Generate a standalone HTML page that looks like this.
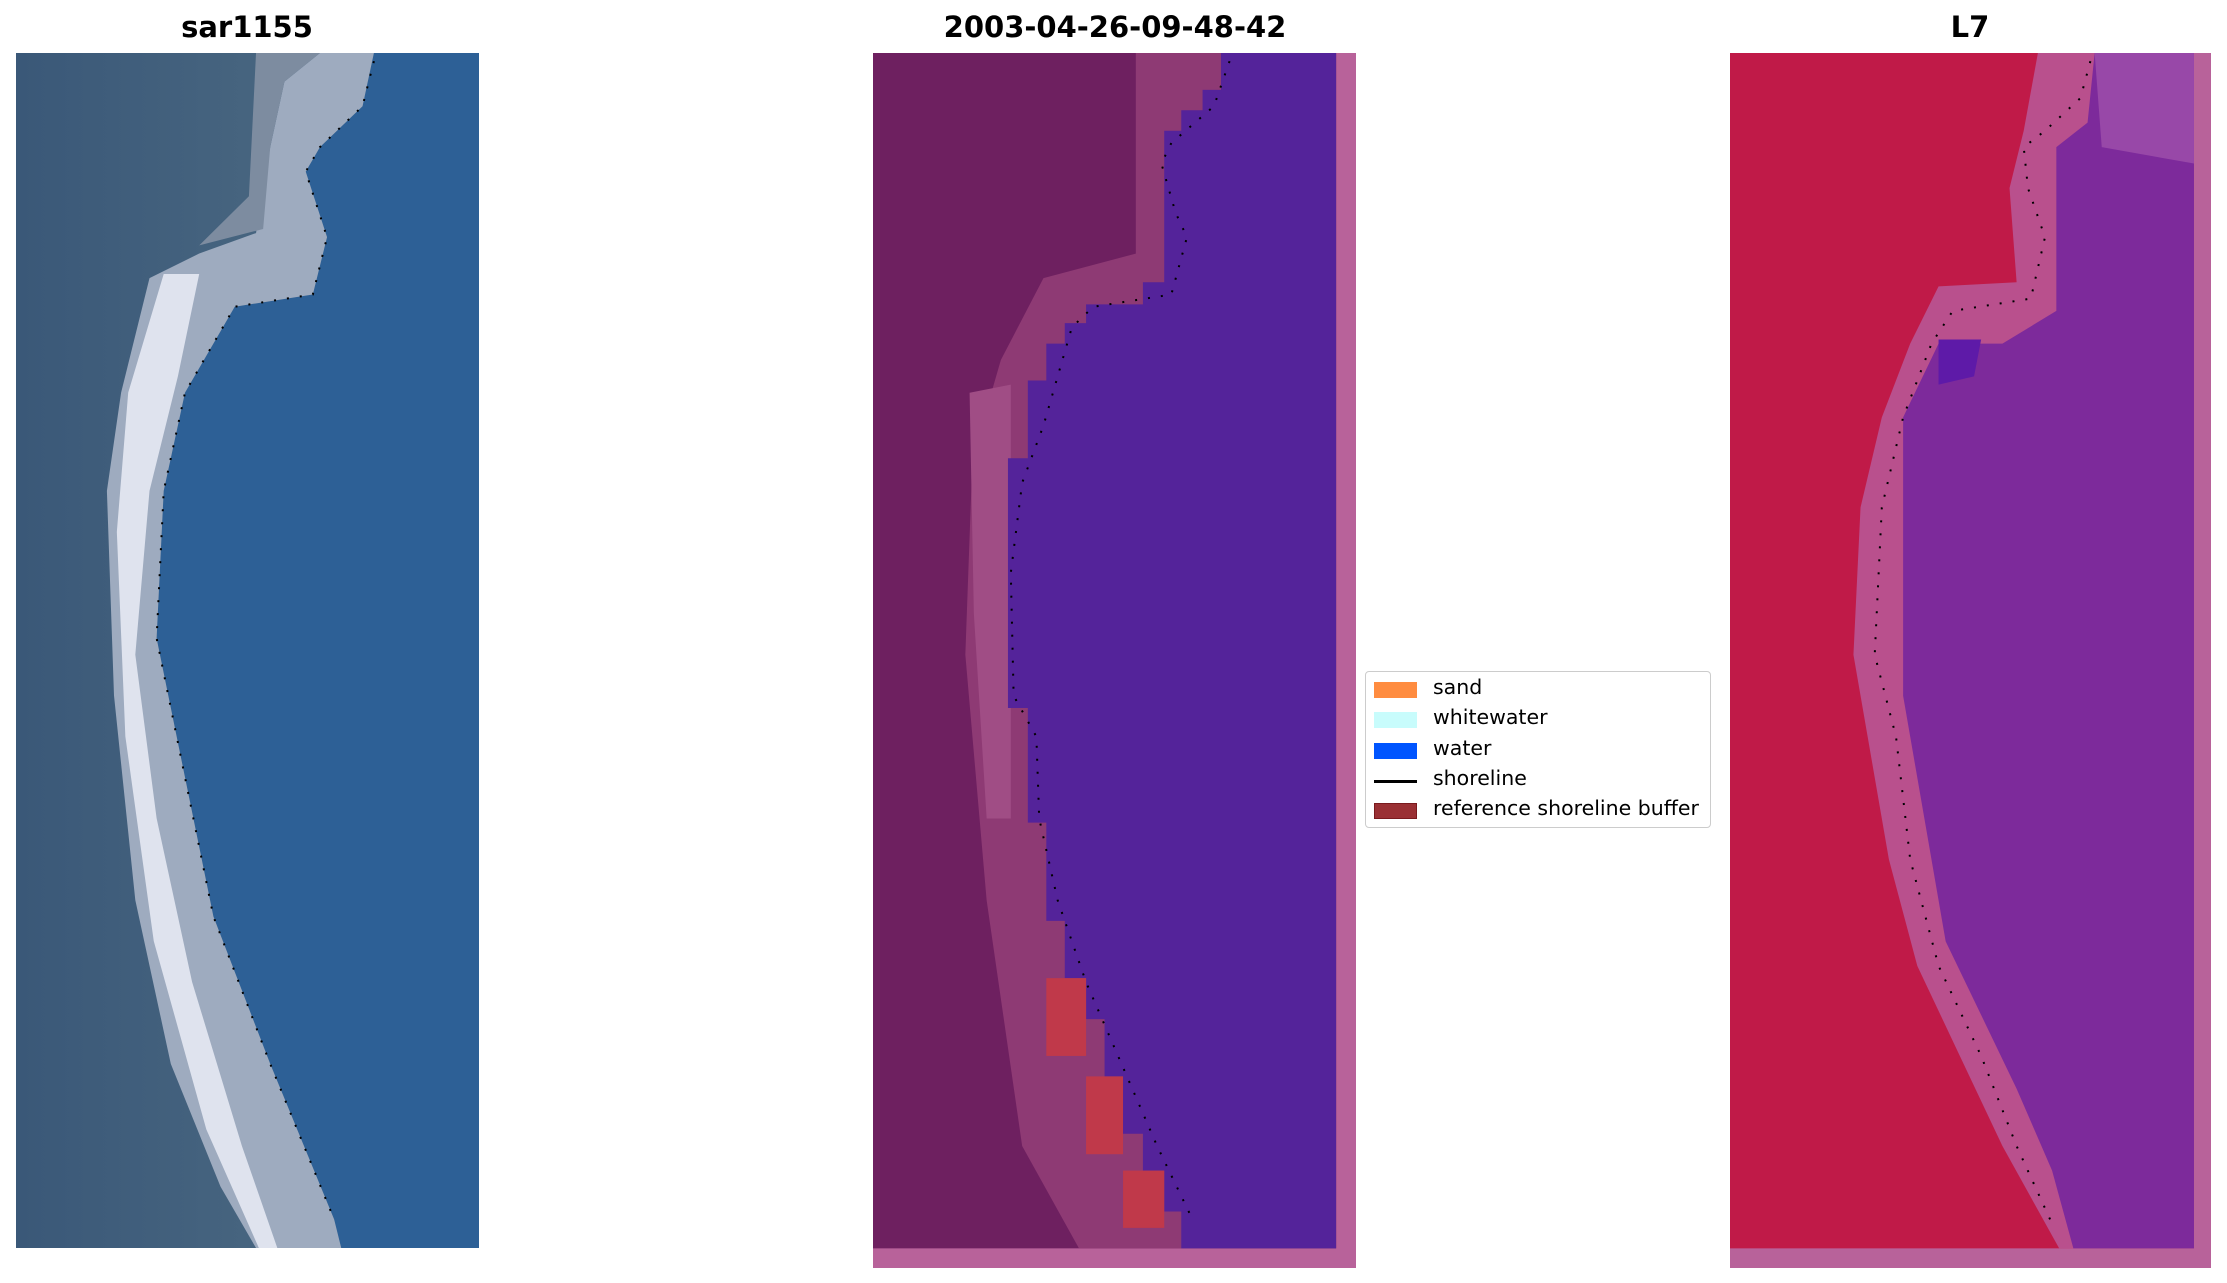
<!DOCTYPE html>
<html><head><meta charset="utf-8"><style>
html,body{margin:0;padding:0;background:#fff;}
body{width:2227px;height:1283px;position:relative;overflow:hidden;font-family:"Liberation Sans","DejaVu Sans",sans-serif;}
.t{position:absolute;top:10px;font-weight:bold;font-size:29px;transform:translateX(-50%);white-space:nowrap;font-family:"DejaVu Sans","Liberation Sans",sans-serif;}
svg{position:absolute;}
.leg{position:absolute;left:1365px;top:671px;width:346px;height:157px;border:1.5px solid #ccc;border-radius:4px;background:#fff;box-sizing:border-box;font-family:"DejaVu Sans","Liberation Sans",sans-serif;font-size:20.5px;}
.r{position:absolute;left:0;height:30px;width:100%;}
.p{position:absolute;left:8px;top:8px;width:43px;height:16px;}
.l{position:absolute;left:67px;top:1px;}
</style></head><body>
<div class="t" style="left:247px">sar1155</div>
<div class="t" style="left:1115px">2003-04-26-09-48-42</div>
<div class="t" style="left:1970px">L7</div>

<svg style="left:15.6px;top:53px" width="463" height="1195" viewBox="11 65 326 1460" preserveAspectRatio="none">
<defs><linearGradient id="g1" x1="0" x2="1" y1="0" y2="0"><stop offset="0" stop-color="#3a5878"/><stop offset="0.5" stop-color="#46647f"/><stop offset="1" stop-color="#3f5f80"/></linearGradient></defs>
<rect x="11" y="65" width="326" height="1460" fill="url(#g1)"/>
<polygon points="263,65 337,65 337,1525 240,1525 235,1490 190,1300 150,1120 130,950 110,780 115,600 130,480 165,375 220,360 230,290 215,210 225,180 255,130" fill="#2d6096"/>
<polygon points="225,65 263,65 255,130 225,180 215,210 230,290 220,360 165,375 130,480 115,600 110,780 130,950 150,1120 190,1300 235,1490 240,1525 180,1525 155,1450 120,1300 95,1100 80,850 75,600 85,480 105,340 140,310 180,285 190,180 200,100" fill="#9eabbf"/>
<polygon points="115,335 140,335 125,460 105,600 95,800 110,1000 135,1200 170,1400 195,1525 182,1525 145,1380 108,1150 88,900 82,650 90,480" fill="#dfe3ee"/>
<polygon points="180,65 225,65 200,100 190,180 185,280 140,300 175,240" fill="#7d8ca0"/>
<polyline points="263,75 255,130 225,180 215,210 230,290 220,360 165,375 130,480 115,600 110,780 130,950 150,1120 190,1300 235,1490" fill="none" stroke="#000" stroke-width="2" stroke-dasharray="2 11" vector-effect="non-scaling-stroke"/>
</svg>

<svg style="left:873px;top:53px" width="483" height="1215" viewBox="615 65 340 1484" preserveAspectRatio="none">
<rect x="615" y="65" width="340" height="1484" fill="#b8629a"/>
<rect x="615" y="65" width="326" height="1460" fill="#6e2060"/>
<polygon points="800,65 860,65 860,1525 760,1525 720,1400 695,1100 680,800 685,560 705,440 735,340 800,310" fill="#8e3a74"/>
<polygon points="683,480 712,470 712,1000 695,1000 686,750" fill="#a04d85"/>
<polygon points="860,65 941,65 941,1525 832,1525 832,1480 820,1480 820,1430 805,1430 805,1385 791,1385 791,1315 778,1315 778,1245 765,1245 765,1195 750,1195 750,1125 737,1125 737,1005 724,1005 724,865 710,865 710,560 724,560 724,465 737,465 737,420 750,420 750,395 765,395 765,372 805,372 805,345 820,345 820,160 832,160 832,135 847,135 847,110 860,110" fill="#54239a"/>
<rect x="737" y="1195" width="28" height="95" fill="#c0394a"/>
<rect x="765" y="1315" width="26" height="95" fill="#c0394a"/>
<rect x="791" y="1430" width="29" height="70" fill="#c0394a"/>
<polyline points="866,75 855,130 825,175 818,200 828,260 836,290 825,360 770,375 755,400 735,520 720,590 712,700 714,850 730,900 732,1000 745,1100 765,1200 790,1300 815,1400 840,1490" fill="none" stroke="#000" stroke-width="2" stroke-dasharray="2 11" vector-effect="non-scaling-stroke"/>
</svg>

<svg style="left:1730px;top:53px" width="481" height="1215" viewBox="1218 65 339 1484" preserveAspectRatio="none">
<rect x="1218" y="65" width="339" height="1484" fill="#b8629a"/>
<rect x="1218" y="65" width="327" height="1460" fill="#c01a48"/>
<polygon points="1435,65 1545,65 1545,1525 1450,1525 1410,1400 1380,1290 1350,1180 1330,1050 1315,900 1305,800 1310,620 1325,510 1345,420 1365,350 1420,345 1415,230 1425,160" fill="#b9508d"/>
<polygon points="1475,65 1545,65 1545,1525 1460,1525 1445,1430 1420,1330 1395,1240 1370,1150 1355,1000 1340,850 1340,510 1365,420 1410,420 1448,380 1448,180 1470,150" fill="#7d2a9b"/>
<polygon points="1475,65 1545,65 1545,200 1480,180" fill="#9848a8"/>
<polygon points="1365,415 1395,415 1390,460 1365,470" fill="#5e1aa8"/>
<polyline points="1472,75 1465,120 1440,160 1425,180 1428,230 1440,290 1430,365 1375,380 1360,420 1340,510 1325,620 1320,800 1335,900 1345,1050 1365,1180 1395,1290 1420,1400 1445,1495" fill="none" stroke="#000" stroke-width="2" stroke-dasharray="2 11" vector-effect="non-scaling-stroke"/>
</svg>

<div class="leg">
<div class="r" style="top:2px"><div class="p" style="background:#ff8c40"></div><div class="l">sand</div></div>
<div class="r" style="top:32px"><div class="p" style="background:#c8fcfc"></div><div class="l">whitewater</div></div>
<div class="r" style="top:63px"><div class="p" style="background:#0055ff"></div><div class="l">water</div></div>
<div class="r" style="top:93px"><div class="p" style="background:#000;height:3px;top:15px"></div><div class="l">shoreline</div></div>
<div class="r" style="top:123px"><div class="p" style="background:#9a3034;border:1px solid #7a1a1e;box-sizing:border-box"></div><div class="l">reference shoreline buffer</div></div>
</div>
</body></html>
